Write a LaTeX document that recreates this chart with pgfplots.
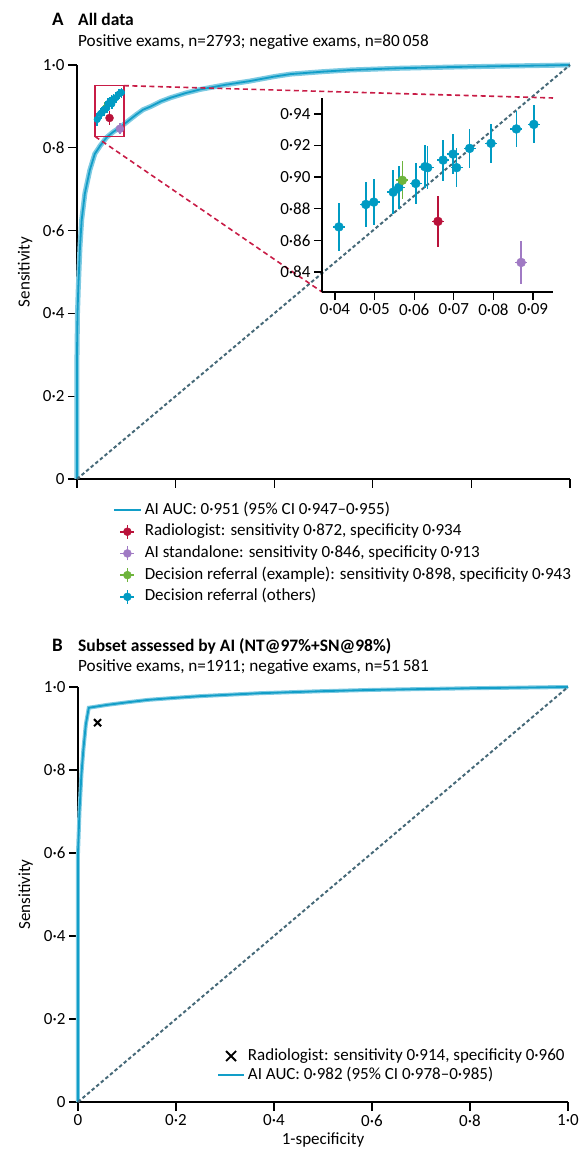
\documentclass[border=0pt]{standalone}
\usepackage{fontspec}
\setmainfont{Carlito}
\usepackage{pgfplots}
\pgfplotsset{compat=1.18}
\usepackage{pgfplotstable}

\definecolor{aiblue}{RGB}{18,158,200}
\definecolor{aiband}{RGB}{125,202,226}
\definecolor{diag}{RGB}{70,105,120}
\definecolor{radred}{RGB}{185,18,58}
\definecolor{boxred}{RGB}{200,28,70}
\definecolor{aipurple}{RGB}{160,122,196}
\definecolor{drgreen}{RGB}{110,180,60}
\definecolor{drblue}{RGB}{0,155,195}

\pgfplotstableread{
x y
0 0
0 0.30
0.001 0.40
0.0027 0.464
0.006 0.56
0.0095 0.626
0.016 0.69
0.026 0.746
0.036 0.785
0.047 0.805
0.060 0.825
0.073 0.838
0.087 0.849
0.105 0.866
0.120 0.880
0.134 0.892
0.150 0.900
0.170 0.912
0.190 0.921
0.220 0.932
0.250 0.941
0.300 0.952
0.350 0.961
0.400 0.972
0.433 0.978
0.500 0.984
0.555 0.988
0.650 0.992
0.758 0.995
0.850 0.997
1 1
}\rocA

\pgfplotstableread{
x y
0 0
0 0.60
0.003 0.70
0.007 0.79
0.011 0.85
0.016 0.91
0.022 0.950
0.060 0.957
0.100 0.963
0.143 0.969
0.200 0.974
0.250 0.978
0.370 0.985
0.500 0.990
0.600 0.993
0.800 0.997
1 1
}\rocB

\pgfplotstableread{
x y ex ey
0.0410 0.8685 0.0015 0.0150
0.0478 0.8827 0.0015 0.0140
0.0498 0.8842 0.0015 0.0145
0.0547 0.8905 0.0015 0.0140
0.0561 0.8935 0.0015 0.0135
0.0604 0.8960 0.0015 0.0130
0.0627 0.9066 0.0015 0.0135
0.0634 0.9060 0.0015 0.0135
0.0673 0.9108 0.0015 0.0130
0.0698 0.9146 0.0015 0.0125
0.0707 0.9060 0.0015 0.0125
0.0740 0.9182 0.0015 0.0125
0.0794 0.9214 0.0015 0.0125
0.0858 0.9305 0.0015 0.0115
0.0902 0.9334 0.0015 0.0120
}\drothers

\pgfplotstableread{
x y ex ey
0.066 0.872 0.0015 0.016
}\radpt
\pgfplotstableread{
x y ex ey
0.087 0.846 0.0015 0.0135
}\aipt
\pgfplotstableread{
x y ex ey
0.057 0.898 0.0015 0.012
}\greenpt

\pgfplotsset{
  rocaxis/.style={
    scale only axis, axis lines=left,
    axis line style={-, line width=1.3pt, black},
    every tick/.style={line width=1.3pt, black},
    tick align=outside, major tick length=9pt,
    xmin=0, xmax=1, ymin=0, ymax=1,
    xtick={0,0.2,0.4,0.6,0.8,1}, ytick={0,0.2,0.4,0.6,0.8,1},
    yticklabels={0,0·2,0·4,0·6,0·8,1·0},
    ticklabel style={font=\fontsize{17pt}{19pt}\selectfont},
    label style={font=\fontsize{17pt}{19pt}\selectfont},
    clip=false,
  },
  errpt/.style={only marks, mark=*, mark size=#1,
    error bars/.cd, x dir=both, x explicit, y dir=both, y explicit,
    error mark=none, error bar style={line width=1.6pt}, /pgfplots/.cd},
}

\begin{document}
\begin{tikzpicture}
\path[use as bounding box] (0pt,0pt) rectangle (581pt,1157pt);
% ---- titles
\node[anchor=base west, inner sep=0pt, font=\bfseries\fontsize{19pt}{20pt}\selectfont] at (52pt,1131pt) {A};
\node[anchor=base west, inner sep=0pt, font=\bfseries\fontsize{17.5pt}{19pt}\selectfont] at (78pt,1131pt) {All data};
\node[anchor=base west, inner sep=0pt, font=\fontsize{17.2pt}{19pt}\selectfont] at (78pt,1110pt) {Positive exams, n=2793; negative exams, n=80\,058};
\node[anchor=base west, inner sep=0pt, font=\bfseries\fontsize{19pt}{20pt}\selectfont] at (52pt,505pt) {B};
\node[anchor=base west, inner sep=0pt, font=\bfseries\fontsize{17.5pt}{19pt}\selectfont] at (78pt,505pt) {Subset assessed by AI (NT@97\%+SN@98\%)};
\node[anchor=base west, inner sep=0pt, font=\fontsize{17.2pt}{19pt}\selectfont] at (78pt,485pt) {Positive exams, n=1911; negative exams, n=51\,581};

% ---- panel A
\begin{axis}[rocaxis, name=A, at={(77pt,678pt)}, anchor=south west,
  width=493pt, height=414pt,
  xticklabels={},
  ylabel={Sensitivity},
  ylabel style={at={(axis description cs:-0.105,0.5)}, anchor=center},
  legend style={at={(rel axis cs:0.073,-0.0556)}, anchor=north west,
    draw=none, fill=none, inner sep=0pt, outer sep=0pt, row sep=5.7pt,
    font=\fontsize{17pt}{19pt}\selectfont,
    nodes={inner xsep=3pt, inner ysep=0pt, text height=12pt, text depth=4pt}},
  legend cell align=left,
]
\addplot[aiband, line width=5pt, forget plot] table {\rocA};
\addplot[aiblue, line width=1.8pt, forget plot] table {\rocA};
\addplot[diag, line width=2pt, dash pattern=on 3.5pt off 2.5pt, forget plot] coordinates {(0,0) (1,1)};
\draw[boxred, line width=1.6pt] (axis cs:0.0367,0.8273) rectangle (axis cs:0.0950,0.9501);
\draw[boxred, line width=1.6pt, dash pattern=on 5pt off 3.5pt] (axis cs:0.0950,0.9501) -- (axis cs:0.9655,0.9203);
\draw[boxred, line width=1.6pt, dash pattern=on 5pt off 3.5pt] (axis cs:0.0367,0.8273) -- (axis cs:0.497,0.4517);
\addplot[color=drblue, forget plot, errpt=3.2pt] table[x=x,y=y,x error=ex,y error=ey] {\drothers};
\addplot[color=drgreen, forget plot, errpt=2.5pt] table[x=x,y=y,x error=ex,y error=ey] {\greenpt};
\addplot[color=drblue, forget plot, only marks, mark=*, mark size=3.2pt] table[x=x,y=y] {\drothers};
\addplot[color=radred, forget plot, errpt=4pt] table[x=x,y=y,x error=ex,y error=ey] {\radpt};
\addplot[color=aipurple, forget plot, errpt=4pt] table[x=x,y=y,x error=ex,y error=ey] {\aipt};
\addlegendimage{legend image code/.code={\draw[aiblue, line width=1.8pt] (0pt,0pt)--(27pt,0pt);}}
\addlegendentry{AI AUC: 0·951 (95\% CI 0·947–0·955)}
\addlegendimage{legend image code/.code={\draw[radred, line width=1.6pt] (13.5pt,-7pt)--(13.5pt,7pt) (6.5pt,0pt)--(20.5pt,0pt); \fill[radred] (13.5pt,0pt) circle (4pt); \path (0pt,0pt) (27pt,0pt);}}
\addlegendentry{Radiologist: sensitivity 0·872, specificity 0·934}
\addlegendimage{legend image code/.code={\draw[aipurple, line width=1.6pt] (13.5pt,-7pt)--(13.5pt,7pt) (6.5pt,0pt)--(20.5pt,0pt); \fill[aipurple] (13.5pt,0pt) circle (4pt); \path (0pt,0pt) (27pt,0pt);}}
\addlegendentry{AI standalone: sensitivity 0·846, specificity 0·913}
\addlegendimage{legend image code/.code={\draw[drgreen, line width=1.6pt] (13.5pt,-7pt)--(13.5pt,7pt) (6.5pt,0pt)--(20.5pt,0pt); \fill[drgreen] (13.5pt,0pt) circle (4pt); \path (0pt,0pt) (27pt,0pt);}}
\addlegendentry{Decision referral (example): sensitivity 0·898, specificity 0·943}
\addlegendimage{legend image code/.code={\draw[drblue, line width=1.6pt] (13.5pt,-7pt)--(13.5pt,7pt) (6.5pt,0pt)--(20.5pt,0pt); \fill[drblue] (13.5pt,0pt) circle (4pt); \path (0pt,0pt) (27pt,0pt);}}
\addlegendentry{Decision referral (others)}
\end{axis}

% ---- inset
\begin{axis}[scale only axis, at={(322pt,865pt)}, anchor=south west,
  width=231pt, height=194pt,
  axis lines=left, axis line style={-, line width=1.3pt, black},
  every tick/.style={line width=1.3pt, black},
  tick align=outside, major tick length=8pt,
  xmin=0.03673, xmax=0.09504, ymin=0.8273, ymax=0.9501,
  scaled x ticks=false, scaled y ticks=false,
  xtick={0.04,0.05,0.06,0.07,0.08,0.09},
  xticklabels={0·04,0·05,0·06,0·07,0·08,0·09},
  ytick={0.84,0.86,0.88,0.90,0.92,0.94},
  yticklabels={0·84,0·86,0·88,0·90,0·92,0·94},
  ticklabel style={font=\fontsize{17pt}{19pt}\selectfont},
  clip=false,
]
\addplot[color=drblue, errpt=4.5pt] table[x=x,y=y,x error=ex,y error=ey] {\drothers};
\addplot[color=drgreen, errpt=4.5pt] table[x=x,y=y,x error=ex,y error=ey] {\greenpt};
\addplot[color=radred, errpt=4.5pt] table[x=x,y=y,x error=ex,y error=ey] {\radpt};
\addplot[color=aipurple, errpt=4.5pt] table[x=x,y=y,x error=ex,y error=ey] {\aipt};
\end{axis}

% ---- panel B
\begin{axis}[rocaxis, at={(78pt,55pt)}, anchor=south west,
  width=490pt, height=415pt,
  xticklabels={0,0·2,0·4,0·6,0·8,1·0},
  xlabel={1-specificity},
  xlabel style={at={(axis description cs:0.5,-0.092)}, anchor=center},
  ylabel={Sensitivity},
  ylabel style={at={(axis description cs:-0.107,0.5)}, anchor=center},
  legend style={at={(rel axis cs:0.284,0.130)}, anchor=north west,
    draw=none, fill=none, inner sep=0pt, outer sep=0pt, row sep=3pt,
    font=\fontsize{17pt}{19pt}\selectfont,
    nodes={inner xsep=3pt, inner ysep=0pt, text height=12pt, text depth=4pt}},
  legend cell align=left,
]
\addplot[aiband, line width=4pt, forget plot] table {\rocB};
\addplot[aiblue, line width=1.8pt, forget plot] table {\rocB};
\addplot[diag, line width=2pt, dash pattern=on 3.5pt off 2.5pt, forget plot] coordinates {(0,0) (1,1)};
\addplot[only marks, mark=x, mark size=5pt, black, line width=2pt, forget plot] coordinates {(0.040,0.914)};
\addlegendimage{legend image code/.code={\draw[black, line width=1.8pt] (8pt,-5pt)--(18pt,5pt) (8pt,5pt)--(18pt,-5pt); \path (0pt,0pt) (26pt,0pt);}}
\addlegendentry{Radiologist: sensitivity 0·914, specificity 0·960}
\addlegendimage{legend image code/.code={\draw[aiblue, line width=1.8pt] (0pt,0pt)--(26pt,0pt);}}
\addlegendentry{AI AUC: 0·982 (95\% CI 0·978–0·985)}
\end{axis}
\end{tikzpicture}
\end{document}
